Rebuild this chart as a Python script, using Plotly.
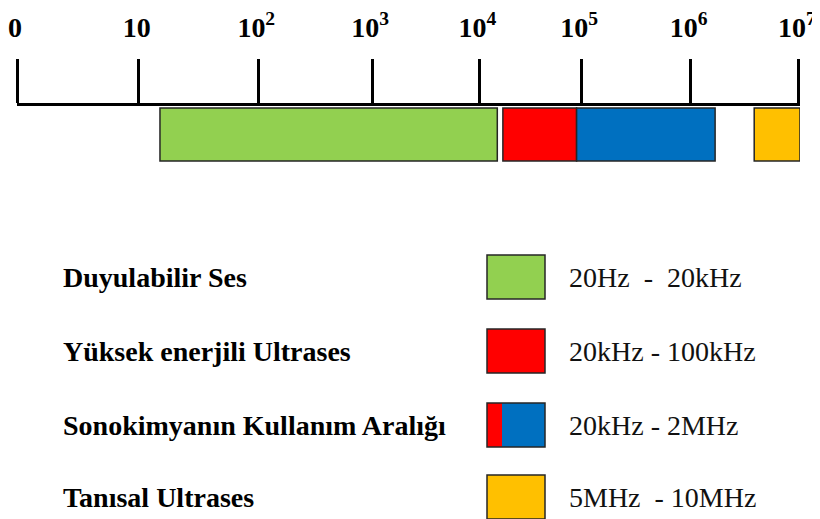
import plotly.graph_objects as go

# Eksen etiketleri ve çizimdeki tik konumları (on yıl birimi)
tick_labels = ["0", "10", "10<sup>2</sup>", "10<sup>3</sup>", "10<sup>4</sup>",
               "10<sup>5</sup>", "10<sup>6</sup>", "10<sup>7</sup>"]
tick_pos = [0.0, 1.09, 2.16, 3.18, 4.14, 5.05, 6.03, 7.0]

# Frekans bantları (on yıl birimi)
band_names = ["Duyulabilir Ses", "Yüksek enerjili Ultrases",
              "Sonokimyanın Kullanım Aralığı", "Tanısal Ultrases"]
band_start = [1.28, 4.35, 5.01, 6.60]
band_end = [4.30, 5.01, 6.25, 7.01]
band_colors = ["#92D050", "#FF0000", "#0070C0", "#FFC000"]
band_ranges = ["20Hz  -  20kHz", "20kHz - 100kHz", "20kHz - 2MHz", "5MHz  - 10MHz"]

# sayfa gövdesinin 8px kenar boşluğu hesaba katılıyor
OFF = 8
W, H = 820 - OFF, 519 - OFF
SERIF = "Liberation Serif"
EDGE = "#262626"


def px(x):
    return (x - OFF) / W


def py(y):
    return 1 - (y - OFF) / H


fig = go.Figure()
for name, s, e, c in zip(band_names, band_start, band_end, band_colors):
    fig.add_trace(go.Bar(
        x=[e - s], base=[s], y=[0], orientation="h", width=0.93,
        name=name,
        marker=dict(color=c, line=dict(color=EDGE, width=1.5)),
        showlegend=False, hoverinfo="skip"
    ))

# Alt kısımdaki açıklama (renk kutuları + metinler)
row_y = [277, 351, 425, 497]
box_x0, box_x1, split_x = 487, 545, 502
shapes = []
annotations = []
for i, (name, rng) in enumerate(zip(band_names, band_ranges)):
    y0, y1 = py(row_y[i] + 22), py(row_y[i] - 22)
    if i == 2:
        # sonokimya aralığı: kırmızı + mavi
        shapes.append(dict(type="rect", xref="paper", yref="paper",
                           x0=px(box_x0), x1=px(split_x), y0=y0, y1=y1,
                           fillcolor=band_colors[1], line=dict(width=0)))
        shapes.append(dict(type="rect", xref="paper", yref="paper",
                           x0=px(split_x), x1=px(box_x1), y0=y0, y1=y1,
                           fillcolor=band_colors[2], line=dict(width=0)))
        shapes.append(dict(type="rect", xref="paper", yref="paper",
                           x0=px(box_x0), x1=px(box_x1), y0=y0, y1=y1,
                           line=dict(color=EDGE, width=1.5)))
    else:
        shapes.append(dict(type="rect", xref="paper", yref="paper",
                           x0=px(box_x0), x1=px(box_x1), y0=y0, y1=y1,
                           fillcolor=band_colors[i], line=dict(color=EDGE, width=1.5)))
    annotations.append(dict(
        x=px(61), y=py(row_y[i]), xref="paper", yref="paper",
        xanchor="left", yanchor="middle", showarrow=False,
        text=f"<b>{name}</b>", font=dict(family=SERIF, size=28, color="black")
    ))
    annotations.append(dict(
        x=px(567), y=py(row_y[i]), xref="paper", yref="paper",
        xanchor="left", yanchor="middle", showarrow=False,
        text=rng, font=dict(family=SERIF, size=28, color="#111111")
    ))

fig.update_layout(
    width=W, height=H,
    margin=dict(l=0, r=0, t=0, b=0),
    paper_bgcolor="white", plot_bgcolor="white",
    barmode="overlay",
    shapes=shapes, annotations=annotations,
    xaxis=dict(
        domain=[px(17), px(800)], range=[0, 7.01], side="top",
        showline=True, linecolor="black", linewidth=3,
        ticks="outside", ticklen=44, tickwidth=2.5, tickcolor="black",
        tickvals=tick_pos, ticktext=tick_labels,
        tickfont=dict(family=SERIF, size=28, color="black", weight="bold"),
        ticklabelstandoff=11, ticklabelshift=-2, ticklabeloverflow="allow",
        showgrid=False, zeroline=False, automargin=False, fixedrange=True
    ),
    yaxis=dict(
        domain=[py(163), py(106)], range=[-0.5, 0.5],
        visible=False, automargin=False, fixedrange=True
    ),
)

fig.write_html("out.html")
